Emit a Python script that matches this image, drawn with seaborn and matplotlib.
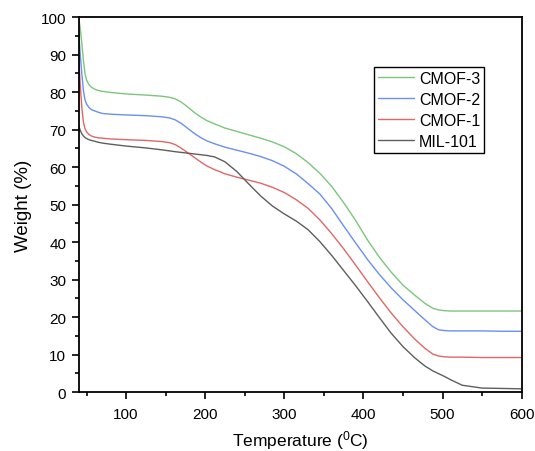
import pandas as pd
import numpy as np
import matplotlib
matplotlib.use("Agg")
import matplotlib.pyplot as plt
from matplotlib.ticker import MultipleLocator
import seaborn as sns

# temperature points (C)
temp = [40, 42, 44, 46, 48, 50, 53, 56, 60, 65, 70, 80, 100, 125, 145, 155, 162,
        170, 178, 186, 194, 202, 212, 225, 240, 255, 270, 285, 300, 315, 330, 345,
        360, 375, 390, 405, 420, 435, 450, 465, 478, 488, 495, 502, 510, 525, 550,
        575, 600]

cmof3 = [100, 97, 93, 88.5, 85, 83.2, 82, 81.3, 80.8, 80.4, 80.2, 79.9, 79.5, 79.2,
         78.9, 78.6, 78.2, 77.3, 76.0, 74.6, 73.4, 72.4, 71.5, 70.4, 69.5, 68.6,
         67.7, 66.7, 65.4, 63.6, 61.2, 58.3, 54.8, 50.5, 45.8, 40.6, 36.0, 32.0,
         28.5, 25.8, 23.6, 22.3, 21.9, 21.7, 21.6, 21.6, 21.6, 21.6, 21.6]
cmof2 = [96.5, 90, 85, 80.5, 78, 76.8, 75.9, 75.3, 75.0, 74.6, 74.3, 74.1, 73.9,
         73.7, 73.4, 73.1, 72.6, 71.6, 70.3, 69.0, 67.9, 67.0, 66.2, 65.3, 64.5,
         63.7, 62.8, 61.7, 60.2, 58.2, 55.6, 52.8, 48.9, 44.3, 39.8, 35.4, 31.4,
         27.8, 24.6, 21.7, 19.2, 17.4, 16.6, 16.4, 16.3, 16.3, 16.3, 16.2, 16.2]
cmof1 = [89.7, 82, 76, 72, 70.3, 69.4, 68.7, 68.3, 68.0, 67.8, 67.7, 67.5, 67.3,
         67.1, 66.8, 66.5, 66.0, 65.0, 63.8, 62.6, 61.4, 60.3, 59.3, 58.2, 57.3,
         56.5, 55.7, 54.6, 53.2, 51.3, 49.0, 45.9, 42.2, 38.2, 33.9, 29.5, 25.2,
         21.1, 17.4, 14.1, 11.6, 10.1, 9.6, 9.4, 9.3, 9.3, 9.2, 9.2, 9.2]
mil101 = [71, 69.8, 68.9, 68.3, 67.9, 67.6, 67.3, 67.1, 66.9, 66.6, 66.4, 66.1, 65.6,
          65.1, 64.6, 64.3, 64.1, 63.9, 63.7, 63.5, 63.3, 63.1, 62.7, 61.4, 58.8,
          55.5, 52.3, 49.6, 47.5, 45.6, 43.3, 40.1, 36.4, 32.4, 28.4, 24.2, 19.9,
          15.7, 12.1, 9.1, 6.9, 5.6, 4.9, 4.2, 3.3, 1.8, 1.05, 0.95, 0.85]

samples = ["CMOF-3", "CMOF-2", "CMOF-1", "MIL-101"]
colors = ["#7cc67c", "#6b8ff2", "#e26666", "#5e5e5e"]

frames = []
for name, vals in zip(samples, [cmof3, cmof2, cmof1, mil101]):
    frames.append(pd.DataFrame({"Temperature": temp, "Weight": vals, "Sample": name}))
df = pd.concat(frames, ignore_index=True)

sns.set_style("ticks")
plt.rcParams["font.family"] = ["Liberation Sans", "DejaVu Sans"]
plt.rcParams["mathtext.default"] = "regular"
plt.rcParams["text.color"] = "black"
plt.rcParams["axes.labelcolor"] = "black"
plt.rcParams["xtick.color"] = "black"
plt.rcParams["ytick.color"] = "black"

fig = plt.figure(figsize=(5.35, 4.52), dpi=100)
ax = fig.add_axes([0.147, 0.1305, 0.828, 0.8295])

sns.lineplot(data=df, x="Temperature", y="Weight", hue="Sample",
             hue_order=samples, palette=colors, linewidth=1.0, ax=ax)

ax.set_xlim(40, 600)
ax.set_ylim(0, 100)
ax.xaxis.set_major_locator(MultipleLocator(100))
ax.xaxis.set_minor_locator(MultipleLocator(50))
ax.yaxis.set_major_locator(MultipleLocator(10))
ax.yaxis.set_minor_locator(MultipleLocator(5))
ax.tick_params(which="major", length=5, width=1.2, labelsize=11, color="black", pad=4)
ax.tick_params(which="minor", length=3, width=1.2, color="black")
ax.tick_params(axis="x", which="major", pad=6)
ax.tick_params(top=False, right=False)
for s in ax.spines.values():
    s.set_linewidth(1.3)
    s.set_color("black")

ax.set_xlabel("Temperature ($^{0}$C)", fontsize=12.5, labelpad=5)
ax.set_ylabel("Weight (%)", fontsize=13.5, labelpad=6)

leg = ax.legend(loc="upper left", bbox_to_anchor=(0.667, 0.867), borderaxespad=0,
                fontsize=11.5, handlelength=2.25, handletextpad=0.3, labelspacing=0.37,
                borderpad=0.25, fancybox=False, framealpha=1)
leg.get_frame().set_edgecolor("black")
leg.get_frame().set_linewidth(1.0)

fig.savefig("out.png", dpi=100)
